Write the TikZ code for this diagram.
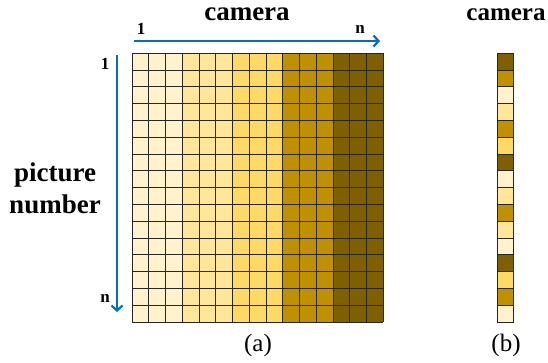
\documentclass[tikz,border=0pt]{standalone}
\usepackage{fontspec}
\setmainfont{Liberation Serif}
\usetikzlibrary{arrows.meta, positioning}
\definecolor{goldA}{HTML}{FFF2CC}
\definecolor{goldB}{HTML}{FFE699}
\definecolor{goldC}{HTML}{FFD966}
\definecolor{goldD}{HTML}{BF9000}
\definecolor{goldE}{HTML}{7F6000}
\definecolor{axisblue}{HTML}{0070C0}
\tikzset{
  cellline/.style={draw=black!85, line width=0.6pt},
  axis/.style={axisblue, line width=2.2pt, -{Straight Barb[length=5pt, width=11pt]}},
  bigtitle/.style={font=\bfseries\fontsize{27}{32}\selectfont, align=center, inner sep=0pt},
  idx/.style={font=\bfseries\fontsize{17}{20}\selectfont, inner sep=0pt},
  caption/.style={font=\fontsize{25}{28}\selectfont, inner sep=0pt}
}
\begin{document}
\begin{tikzpicture}[x=1pt, y=-1pt]
  \useasboundingbox (0,0) rectangle (548,362);
  % cell size and grid origin
  \def\cw{16.75} \def\ch{16.8}
  \def\ox{132} \def\oy{53}
  % (a) full grid, 15 cameras x 16 pictures
  \foreach \col in {0,...,14} {
    \pgfmathtruncatemacro{\grp}{floor(\col/3)}
    \ifcase\grp \def\shade{goldA}\or \def\shade{goldB}\or \def\shade{goldC}\or \def\shade{goldD}\or \def\shade{goldE}\fi
    \foreach \row in {0,...,15}
      \fill[\shade] (\ox+\col*\cw, \oy+\row*\ch) rectangle ++(\cw,\ch);
  }
  \foreach \col in {0,...,15}
    \draw[cellline] (\ox+\col*\cw, \oy) -- ++(0,16*\ch);
  \foreach \row in {0,...,16}
    \draw[cellline] (\ox, \oy+\row*\ch) -- ++(15*\cw,0);
  % (b) one column, mixed cameras
  \def\sx{497}
  \foreach \shade [count=\row from 0] in {goldE,goldD,goldA,goldB,goldD,goldC,goldE,goldA,goldB,goldD,goldB,goldA,goldE,goldC,goldD,goldA}
    \filldraw[fill=\shade, cellline] (\sx, \oy+\row*\ch) rectangle ++(\cw,\ch);
  % axes
  \coordinate (camS) at (134,41);
  \coordinate (camE) at (380,41);
  \coordinate (picS) at (117,55);
  \coordinate (picE) at (117,312);
  \draw[axis] (camS) -- (camE);
  \draw[axis] (picS) -- (picE);
  % labels
  \node[bigtitle, anchor=base] (camA) at (247,20) {camera};
  \node[bigtitle, anchor=base, font=\bfseries\fontsize{25}{30}\selectfont] (camB) at (506,20) {camera};
  \node[bigtitle] (picnum) at (55,188) {picture\\number};
  \node[idx, anchor=base] (camOne) at (141,34) {1};
  \node[idx, anchor=base] (camN) at (360,33) {n};
  \node[idx, anchor=base] (picOne) at (105,69) {1};
  \node[idx, anchor=base] (picN) at (105,302) {n};
  \node[caption] (capA) at (258,345) {(a)};
  \node[caption] (capB) at (506,345) {(b)};
\end{tikzpicture}
\end{document}
